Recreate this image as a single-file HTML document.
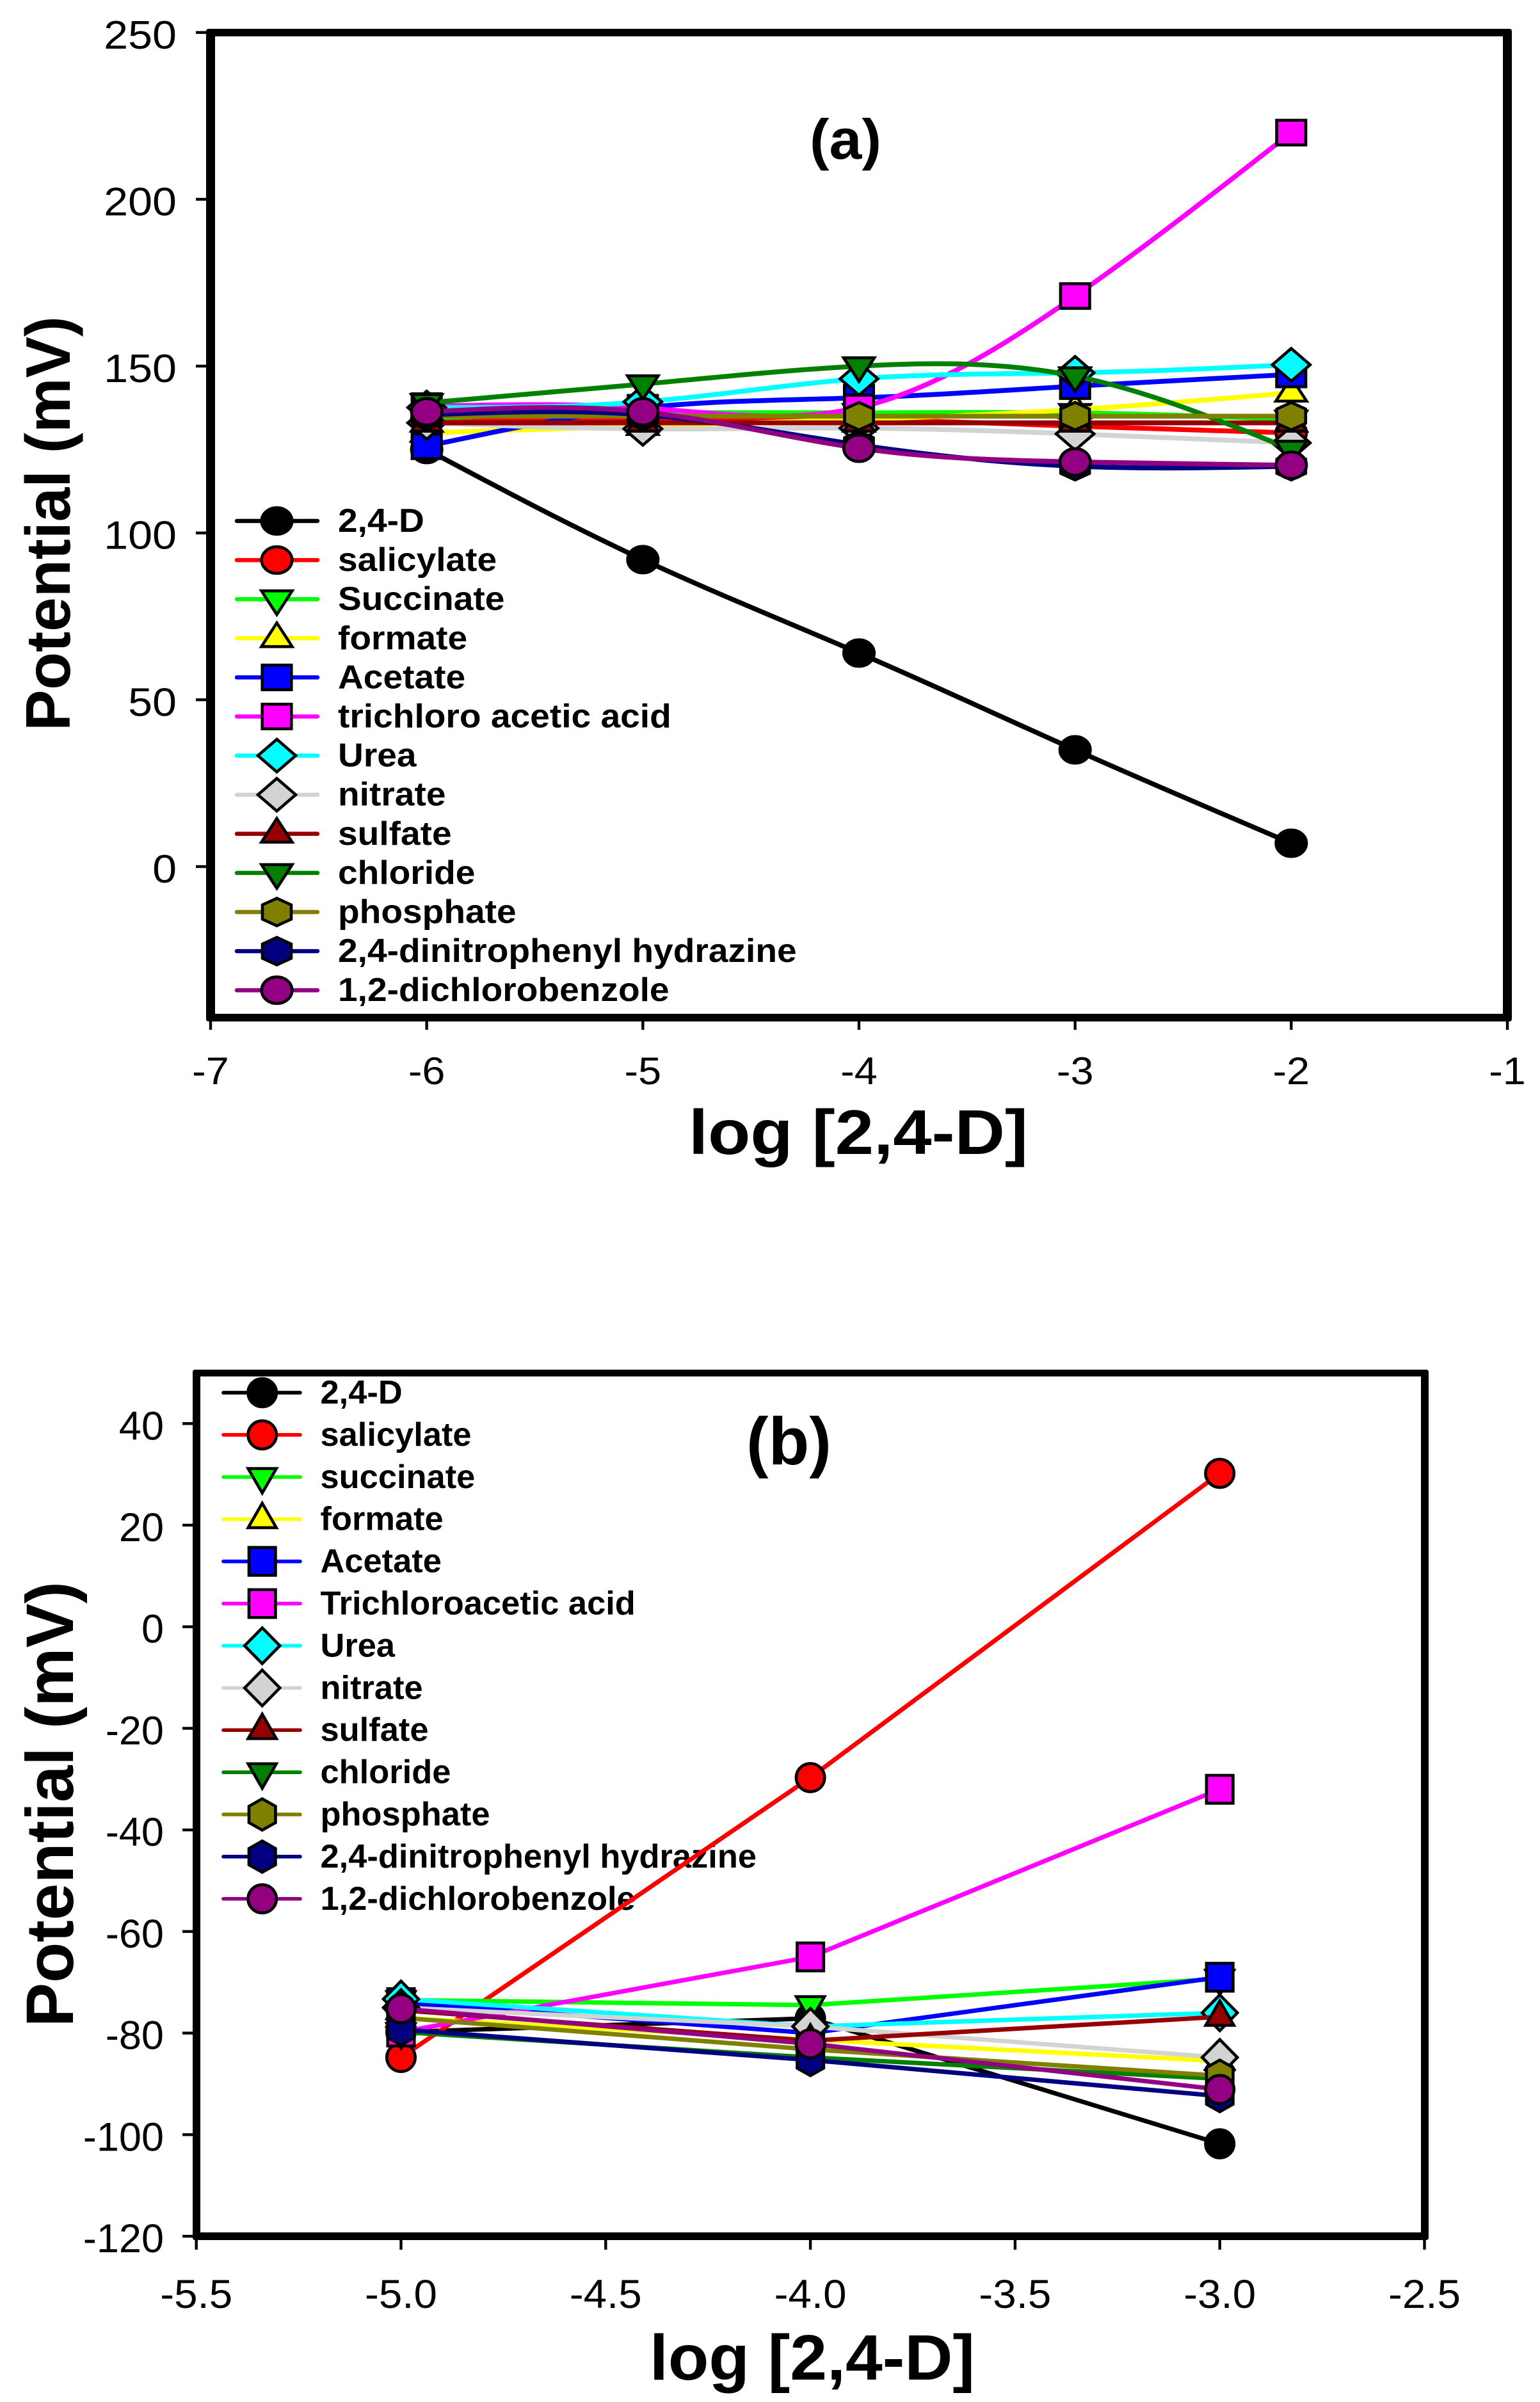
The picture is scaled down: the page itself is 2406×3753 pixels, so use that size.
<!DOCTYPE html>
<html lang="en">
<head>
<meta charset="utf-8">
<title>Potential vs log [2,4-D]</title>
<style>
html,body{margin:0;padding:0;background:#fff;}
svg{display:block;}
text{font-family:"Liberation Sans",Arial,sans-serif;fill:#000;}
.b{font-weight:bold;}
</style>
</head>
<body>
<svg id="fig" xmlns="http://www.w3.org/2000/svg" width="2406" height="3753" viewBox="0 0 2406 3753">
  <rect width="2406" height="3753" fill="#fff"/>
  <g id="panelA">
    <path fill-rule="evenodd" fill="#000" d="M326 45H2358Q2362 45 2362 49V1592Q2362 1596 2358 1596H326Q322 1596 322 1592V49Q322 45 326 45ZM336 56.7V1584H2348V56.7Z"/>
    <text class="b" font-size="98" textLength="648" lengthAdjust="spacingAndGlyphs" transform="translate(109,1142) rotate(-90)">Potential (mV)</text>
    <text class="b" font-size="98" x="1076" y="1803" textLength="530" lengthAdjust="spacingAndGlyphs">log [2,4-D]</text>
    <text class="b" font-size="88" x="1265" y="248" textLength="112" lengthAdjust="spacingAndGlyphs">(a)</text>
  </g>
  <g id="panelB">
    <path fill-rule="evenodd" fill="#000" d="M305 2140H2228Q2232 2140 2232 2144V3496Q2232 3500 2228 3500H305Q301 3500 301 3496V2144Q301 2140 305 2140ZM313 2150.6V3488H2220V2150.6Z"/>
    <text class="b" font-size="105" textLength="696" lengthAdjust="spacingAndGlyphs" transform="translate(114,3167) rotate(-90)">Potential (mV)</text>
    <text class="b" font-size="100" x="1015" y="3718" textLength="508" lengthAdjust="spacingAndGlyphs">log [2,4-D]</text>
    <text class="b" font-size="105" x="1166" y="2288" textLength="133" lengthAdjust="spacingAndGlyphs">(b)</text>
  </g>
</svg>
<script>
// ---- Panel (a) data ----
const xCategoriesA = [-6, -5, -4, -3, -2];
const xTicksA = [-7, -6, -5, -4, -3, -2, -1];
const yTicksA = [0, 50, 100, 150, 200, 250];
const a24D = [125, 92, 64, 35, 7];
const aSalicylate = [134, 134, 134, 132, 130];
const aSuccinate = [134.5, 136, 136, 136, 134];
const aFormate = [130, 132, 134, 137, 142];
const aAcetate = [126, 137.5, 140.5, 144, 147.5];
const aTrichloro = [138, 137.5, 137.6, 171, 220];
const aUrea = [137.6, 139.3, 146.2, 148, 150.4];
const aNitrate = [133, 131.2, 131.4, 129.7, 127];
const aSulfate = [133, 133, 133, 133, 133];
const aChloride = [139, 144.6, 150, 147, 125];
const aPhosphate = [135, 135, 135, 135, 135];
const aDinitro = [135.4, 135.4, 126.4, 120, 120];
const aDichloro = [136.3, 136.3, 125.4, 121.3, 120.3];

// ---- Panel (b) data ----
const xCategoriesB = [-5, -4, -3];
const xTicksB = ['-5.5', '-5.0', '-4.5', '-4.0', '-3.5', '-3.0', '-2.5'];
const yTicksB = [40, 20, 0, -20, -40, -60, -80, -100, -120];
const b24D = [-79.8, -77.1, -101.8];
const bSalicylate = [-84.8, -29.7, 30.2];
const bSuccinate = [-73.5, -74.5, -69.3];
const bFormate = [-77, -81.3, -85.5];
const bAcetate = [-74, -80, -69];
const bTrichloro = [-79.8, -65, -32];
const bUrea = [-73.3, -78.7, -76];
const bNitrate = [-75, -78.7, -84.8];
const bSulfate = [-75.5, -81.5, -76.8];
const bChloride = [-79.8, -84.8, -89];
const bPhosphate = [-77, -83.2, -88.4];
const bDinitro = [-79.3, -85.3, -92.4];
const bDichloro = [-75.2, -82.1, -91.1];

// ---- Series names ----
const seriesNamesA = ['2,4-D','salicylate','Succinate','formate','Acetate','trichloro acetic acid','Urea','nitrate','sulfate','chloride','phosphate','2,4-dinitrophenyl hydrazine','1,2-dichlorobenzole'];
const seriesNamesB = ['2,4-D','salicylate','succinate','formate','Acetate','Trichloroacetic acid','Urea','nitrate','sulfate','chloride','phosphate','2,4-dinitrophenyl hydrazine','1,2-dichlorobenzole'];
const seriesValuesA = [a24D,aSalicylate,aSuccinate,aFormate,aAcetate,aTrichloro,aUrea,aNitrate,aSulfate,aChloride,aPhosphate,aDinitro,aDichloro];
const seriesValuesB = [b24D,bSalicylate,bSuccinate,bFormate,bAcetate,bTrichloro,bUrea,bNitrate,bSulfate,bChloride,bPhosphate,bDinitro,bDichloro];
const seriesColors = ['#000000','#ff0000','#00ff00','#ffff00','#0000ff','#ff00ff','#00ffff','#d3d3d3','#960000','#008000','#808000','#000080','#940082'];
const seriesShapes = ['circle','circle','down','up','square','square','diamond','diamond','up','down','hex','hex','circle'];

const NS = 'http://www.w3.org/2000/svg';
function make(parent, tag, attrs, txt) {
  const el = document.createElementNS(NS, tag);
  for (const k in attrs) el.setAttribute(k, attrs[k]);
  if (txt !== undefined) el.textContent = txt;
  parent.appendChild(el);
  return el;
}

// axis functions
function xA(v) { return 329 + (v + 7) * 337.67; }
function yA(v) { return 1354 - v * 5.213; }
function xB(v) { return 306.7 + (v + 5.5) * 639.6; }
function yB(v) { return 2541.7 - v * 7.936; }

const markerA = {rx:23.75, ry:20.75, sw:22.75, sh:19.25, tw:24, tn:13, tf:24, dw:29.5, dh:25.5, hw:22.5, hh:21.5};
const markerB = {rx:22.2, ry:22, sw:20.75, sh:21.75, tw:22, tn:13.25, tf:25, dw:27.5, dh:28, hw:20.75, hh:24.5};

function markerEl(parent, shape, cx, cy, color, m) {
  const common = {fill: color, stroke: '#000', 'stroke-width': 4.6, 'stroke-linejoin': 'miter', 'stroke-miterlimit': 6};
  let el;
  if (shape === 'circle') {
    el = make(parent, 'ellipse', Object.assign({cx: cx, cy: cy, rx: m.rx, ry: m.ry}, common));
  } else {
    let pts;
    if (shape === 'square') pts = [[-m.sw,-m.sh],[m.sw,-m.sh],[m.sw,m.sh],[-m.sw,m.sh]];
    if (shape === 'down') pts = [[-m.tw,-m.tn],[m.tw,-m.tn],[0,m.tf]];
    if (shape === 'up') pts = [[-m.tw,m.tn],[m.tw,m.tn],[0,-m.tf]];
    if (shape === 'diamond') pts = [[0,-m.dh],[m.dw,0],[0,m.dh],[-m.dw,0]];
    if (shape === 'hex') pts = [[0,-m.hh],[m.hw,-m.hh*0.52],[m.hw,m.hh*0.52],[0,m.hh],[-m.hw,m.hh*0.52],[-m.hw,-m.hh*0.52]];
    const str = pts.map(function (p) { return (cx + p[0]).toFixed(2) + ',' + (cy + p[1]).toFixed(2); }).join(' ');
    el = make(parent, 'polygon', Object.assign({points: str}, common));
  }
  return el;
}

// natural cubic spline through evenly spaced pixel points, as bezier path
function splinePath(px, py) {
  const n = px.length, h = px[1] - px[0];
  const M = new Array(n).fill(0);
  const c = new Array(n).fill(0), d = new Array(n).fill(0);
  for (let i = 1; i < n - 1; i++) {
    const rhs = 6 * (py[i + 1] - 2 * py[i] + py[i - 1]) / (h * h);
    const den = 4 - c[i - 1];
    c[i] = 1 / den;
    d[i] = (rhs - d[i - 1]) / den;
  }
  for (let i = n - 2; i > 0; i--) M[i] = d[i] - c[i] * M[i + 1];
  let s = 'M' + px[0].toFixed(2) + ' ' + py[0].toFixed(2);
  for (let i = 0; i < n - 1; i++) {
    const slope = (py[i + 1] - py[i]) / h;
    const d0 = slope - h * (2 * M[i] + M[i + 1]) / 6;
    const d1 = slope + h * (M[i] + 2 * M[i + 1]) / 6;
    s += 'C' + (px[i] + h / 3).toFixed(2) + ' ' + (py[i] + d0 * h / 3).toFixed(2) + ' ' +
         (px[i + 1] - h / 3).toFixed(2) + ' ' + (py[i + 1] - d1 * h / 3).toFixed(2) + ' ' +
         px[i + 1].toFixed(2) + ' ' + py[i + 1].toFixed(2);
  }
  return s;
}
function straightPath(px, py) {
  return px.map(function (x, i) { return (i ? 'L' : 'M') + x.toFixed(2) + ' ' + py[i].toFixed(2); }).join('');
}

function widen(el, factor) {
  el.setAttribute('textLength', (el.getComputedTextLength() * factor).toFixed(1));
  el.setAttribute('lengthAdjust', 'spacingAndGlyphs');
}

function drawAxes(g, xTicks, yTicks, xf, yf, o) {
  xTicks.forEach(function (t) {
    const x = xf(parseFloat(t));
    const tick = make(g, 'rect', {x: x - 2.2, y: o.xTickTop - 2, width: 4.4, height: o.xTickLen + 2, fill: '#000'});
    
    
    const lab = make(g, 'text', {x: x, y: o.xLabelBase, 'font-size': o.xFont, 'text-anchor': 'middle'}, String(t));
    
    
    widen(lab, o.xStretch);
  });
  yTicks.forEach(function (t) {
    const y = yf(t);
    const tick = make(g, 'rect', {x: o.yTickLeft, y: y - 2.2, width: o.yTickLen + 2, height: 4.4, fill: '#000'});
    
    
    const lab = make(g, 'text', {x: o.yLabelRight, y: y + 25, 'font-size': o.yFont, 'text-anchor': 'end'}, String(t));
    
    
    widen(lab, o.yStretch);
  });
}

function drawLegend(g, names, o) {
  names.forEach(function (name, i) {
    const y = o.top + i * o.step;
    const row = make(g, 'g', {});
    
    
    const ln = make(row, 'line', {x1: o.lineL, x2: o.lineR, y1: y, y2: y, stroke: seriesColors[i], 'stroke-width': o.lineW, 'stroke-linecap': 'round'});
    
    
    const mk = markerEl(row, seriesShapes[i], o.markX, y, seriesColors[i], o.marker);
    
    
    const tx = make(row, 'text', {x: o.textX, y: y + 17, 'font-size': o.font, 'font-weight': 'bold'}, name);
    
    
    widen(tx, o.stretch);
  });
}

function drawSeries(g, cats, values, xf, yf, marker, lineW, pathFn) {
  values.forEach(function (vals, i) {
    const s = make(g, 'g', {});
    
    
    const px = cats.map(xf);
    const py = vals.map(yf);
    const line = make(s, 'path', {d: pathFn(px, py), fill: 'none', stroke: seriesColors[i], 'stroke-width': lineW});
    
    
    px.forEach(function (x, k) {
      const m = markerEl(s, seriesShapes[i], x, py[k], seriesColors[i], marker);
      
      
    });
  });
}

const gA = document.getElementById('panelA');
const gB = document.getElementById('panelB');

drawAxes(gA, xTicksA, yTicksA, xA, yA, {xTickTop: 1596, xTickLen: 13, xLabelBase: 1694, xFont: 60, xStretch: 1.08, yTickLeft: 306, yTickLen: 16, yLabelRight: 276, yFont: 62, yStretch: 1.1});
drawSeries(gA, xCategoriesA, seriesValuesA, xA, yA, markerA, 7.6, splinePath);
drawLegend(gA, seriesNamesA, {top: 814, step: 61.1, lineL: 370, lineR: 496, lineW: 6.5, markX: 432.5, textX: 528, font: 52, stretch: 1.06, marker: markerA});

drawAxes(gB, xTicksB, yTicksB, xB, yB, {xTickTop: 3500, xTickLen: 15, xLabelBase: 3606, xFont: 63, xStretch: 1.04, yTickLeft: 285, yTickLen: 16, yLabelRight: 256, yFont: 63, yStretch: 1.0});
drawLegend(gB, seriesNamesB, {top: 2176, step: 65.9, lineL: 349, lineR: 469, lineW: 5.7, markX: 409.7, textX: 500.5, font: 52, stretch: 1.008, marker: markerB});
drawSeries(gB, xCategoriesB, seriesValuesB, xB, yB, markerB, 7, straightPath);
</script>
</body>
</html>
